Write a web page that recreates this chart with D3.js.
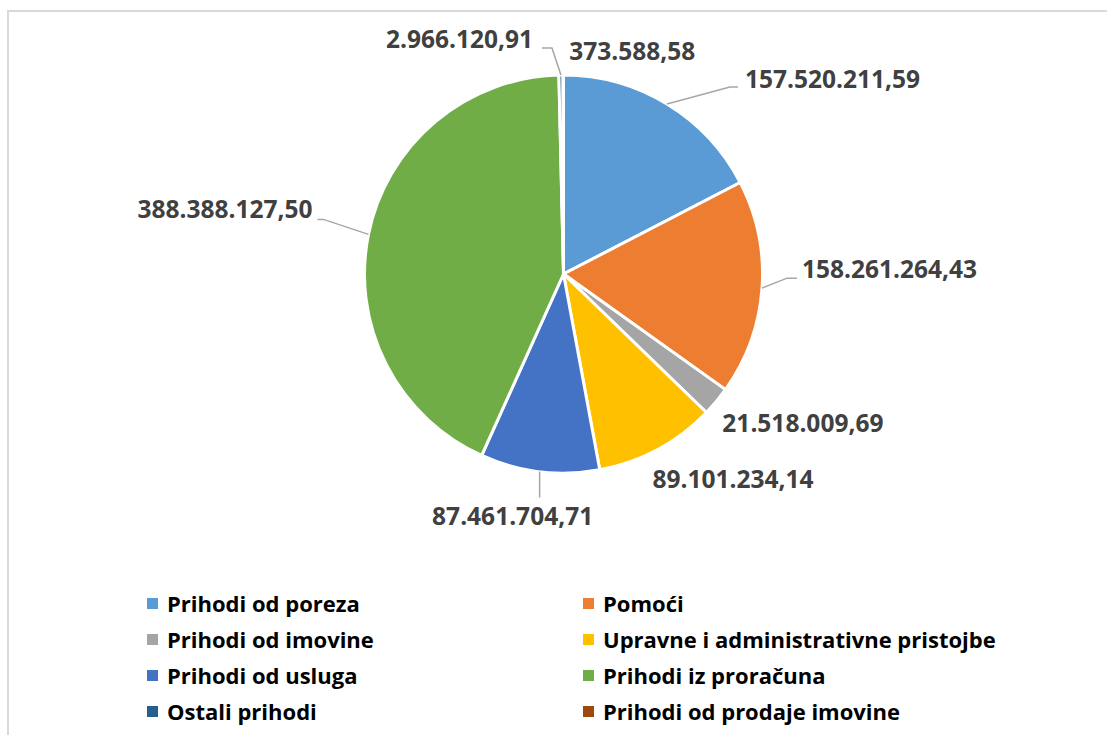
<meta charset="utf-8">
<script src="https://d3js.org/d3.v7.min.js"></script>
<style>
  body { margin: 0; background: #fff; }
  text { font-family: "Open Sans", sans-serif; font-weight: bold; }
</style>

<div id="graph"></div>

<script>

// Data
var categories = ['Prihodi od poreza', 'Pomoći', 'Prihodi od imovine',
  'Upravne i administrativne pristojbe', 'Prihodi od usluga', 'Prihodi iz proračuna',
  'Ostali prihodi', 'Prihodi od prodaje imovine']
var values = [157520211.59, 158261264.43, 21518009.69, 89101234.14,
  87461704.71, 388388127.50, 2966120.91, 373588.58]
var valueLabels = ['157.520.211,59', '158.261.264,43', '21.518.009,69', '89.101.234,14',
  '87.461.704,71', '388.388.127,50', '2.966.120,91', '373.588,58']
var colors = ['#5B9BD5', '#ED7D31', '#A5A5A5', '#FFC000', '#4472C4', '#70AD47', '#255E91', '#9E480E']

// Label placement relative to the slice edge (knee of leader, text pos, anchor)
var labelLayout = [
  {knee: [63, -17], end: [71, -17], text: [78, -16], anchor: 'start'},
  {knee: [25, -10], end: [35, -10], text: [40, -10], anchor: 'start'},
  {text: [6, 31], anchor: 'start'},
  {text: [-5, 39], anchor: 'start'},
  {knee: [0, 26], end: [0, 26], text: [-27, 53], anchor: 'middle'},
  {knee: [-45, -15], end: [-51, -15], text: [-56, -16], anchor: 'end'},
  {knee: [-9, -27], end: [-19, -27], text: [-28, -27], anchor: 'end'},
  {text: [6, -15], anchor: 'start'}
]

var W = 1107, H = 735
var cx = 563.5, cy = 274, radius = 199

var svg = d3.select('#graph')
  .append('svg')
  .attr('width', W)
  .attr('height', H)

// Chart border
svg.append('rect')
  .attr('x', 8).attr('y', 11)
  .attr('width', W + 20).attr('height', H + 20)
  .attr('fill', 'none')
  .attr('stroke', '#d9d9d9')
  .attr('stroke-width', 2)

var data = categories.map(function(c, i) {
  return {name: c, value: values[i], label: valueLabels[i], color: colors[i], layout: labelLayout[i]}
})

var pie = d3.pie().sort(null).value(function(d) { return d.value })
var arcs = pie(data)

var arc = d3.arc().innerRadius(0).outerRadius(radius)

var g = svg.append('g').attr('transform', `translate(${cx}, ${cy})`)

g.selectAll('path.slice')
  .data(arcs)
  .join('path')
  .attr('class', 'slice')
  .attr('d', arc)
  .attr('fill', function(d) { return d.data.color })
  .attr('stroke', '#fff')
  .attr('stroke-width', 3)

// point on the rim at the middle of each slice
function edge(d) {
  var a = (d.startAngle + d.endAngle) / 2
  return [radius * Math.sin(a), -radius * Math.cos(a)]
}

// Leader lines
g.selectAll('path.leader')
  .data(arcs.filter(function(d) { return d.data.layout.knee }))
  .join('path')
  .attr('class', 'leader')
  .attr('d', function(d) {
    var e = edge(d), L = d.data.layout
    return d3.line()([e, [e[0] + L.knee[0], e[1] + L.knee[1]], [e[0] + L.end[0], e[1] + L.end[1]]])
  })
  .attr('fill', 'none')
  .attr('stroke', '#a6a6a6')
  .attr('stroke-width', 1.5)

// Value labels
g.selectAll('text.val')
  .data(arcs)
  .join('text')
  .attr('class', 'val')
  .attr('x', function(d) { return edge(d)[0] + d.data.layout.text[0] })
  .attr('y', function(d) { return edge(d)[1] + d.data.layout.text[1] })
  .attr('text-anchor', function(d) { return d.data.layout.anchor })
  .style('font-size', '24.5px')
  .attr('fill', '#404040')
  .text(function(d) { return d.data.label })

// Legend, two columns
var colX = d3.scaleOrdinal().domain([0, 1]).range([147, 583])
var rowY = d3.scaleLinear().domain([0, 1]).range([612, 648])

var legend = svg.append('g')
  .selectAll('g')
  .data(data)
  .join('g')
  .attr('transform', function(d, i) { return `translate(${colX(i % 2)}, ${rowY(Math.floor(i / 2))})` })

legend.append('rect')
  .attr('x', 0).attr('y', -14)
  .attr('width', 11).attr('height', 11)
  .attr('fill', function(d) { return d.color })

legend.append('text')
  .attr('x', 20).attr('y', 0)
  .style('font-size', '22px')
  .attr('fill', '#000')
  .text(function(d) { return d.name })

</script>
